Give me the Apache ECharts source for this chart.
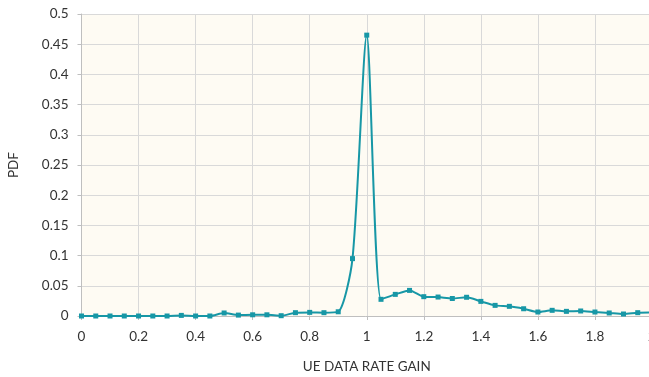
<!DOCTYPE html>
<html>
<head>
<meta charset="utf-8">
<script src="https://cdn.jsdelivr.net/npm/echarts@6/dist/echarts.min.js"></script>
<style>html,body{margin:0;padding:0;background:#fff}#c{width:649px;height:377px}</style>
</head>
<body>
<div id="c"></div>
<script>
const gainValues = [0,0.05,0.1,0.15,0.2,0.25,0.3,0.35,0.4,0.45,0.5,0.55,0.6,0.65,0.7,0.75,0.8,0.85,0.9,0.95,1.0,1.05,1.1,1.15,1.2,1.25,1.3,1.35,1.4,1.45,1.5,1.55,1.6,1.65,1.7,1.75,1.8,1.85,1.9,1.95,2.0];
const pdfValues = [0,0,0,0,0,0,0,0.001,0,0,0.005,0.0015,0.002,0.002,0.0005,0.0055,0.006,0.0055,0.007,0.095,0.465,0.0276,0.0358,0.0424,0.032,0.0314,0.029,0.031,0.0242,0.0176,0.016,0.012,0.0066,0.0094,0.0077,0.0083,0.0066,0.005,0.0033,0.0055,0.006];
const xTitle = 'UE DATA RATE GAIN';
const yTitle = 'PDF';

const chart = echarts.init(document.getElementById('c'));
const font = 'Lato, "Open Sans", sans-serif';
chart.setOption({
  animation: false,
  grid: {left: 81.5, right: -3, top: 14, bottom: 61, show: true, backgroundColor: '#fefbf3', borderWidth: 0, containLabel: false, outerBoundsMode: 'none'},
  xAxis: {
    type: 'value', min: 0, max: 2, interval: 0.2,
    name: xTitle, nameLocation: 'middle', nameGap: 44,
    nameTextStyle: {color: '#333', fontSize: 13.5, fontFamily: font},
    axisLine: {lineStyle: {color: '#bfbfbf', width: 1}},
    axisTick: {show: true, length: 4, lineStyle: {color: '#bfbfbf'}},
    axisLabel: {color: '#333', fontSize: 13.5, fontFamily: font, margin: 14, formatter: v => String(+v.toFixed(1))},
    splitLine: {show: true, lineStyle: {color: '#d9d9d9', width: 1}}
  },
  yAxis: {
    type: 'value', min: 0, max: 0.5, interval: 0.05,
    name: yTitle, nameLocation: 'middle', nameGap: 61, nameRotate: 90,
    nameTextStyle: {color: '#333', fontSize: 13.5, fontFamily: font},
    axisLine: {show: true, lineStyle: {color: '#bfbfbf', width: 1}},
    axisTick: {show: true, length: 4, lineStyle: {color: '#bfbfbf'}},
    axisLabel: {color: '#333', fontSize: 13.5, fontFamily: font, margin: 13, formatter: v => String(+v.toFixed(2))},
    splitLine: {show: true, lineStyle: {color: '#d9d9d9', width: 1}}
  },
  series: [{
    type: 'line',
    data: gainValues.map((g, i) => [g, pdfValues[i]]),
    smooth: 0.25,
    symbol: 'rect', symbolSize: 5, showSymbol: true,
    lineStyle: {color: '#1797a6', width: 2},
    itemStyle: {color: '#1797a6'},
    clip: false
  }]
});
</script>
</body>
</html>
